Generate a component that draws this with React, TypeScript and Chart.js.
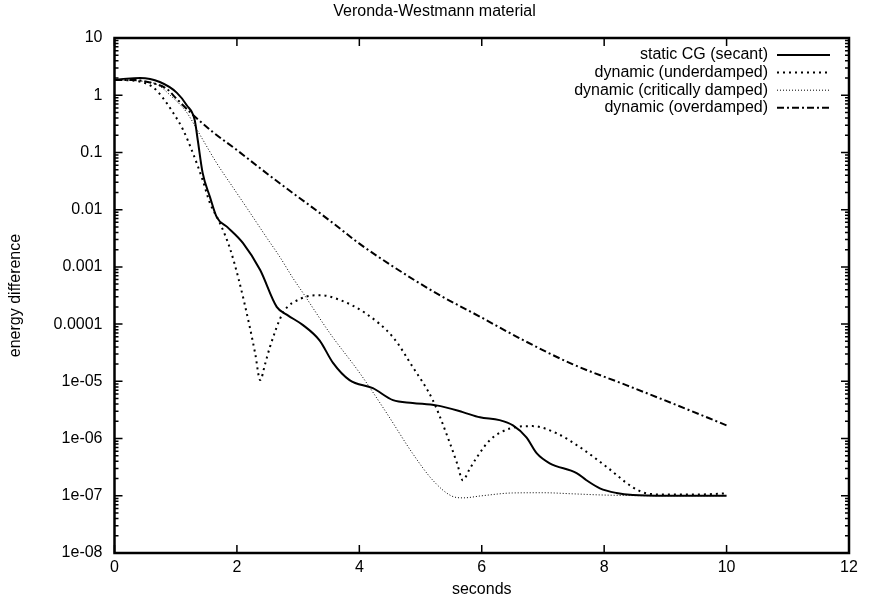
import React, { useEffect, useRef } from 'react';
import { Chart, registerables } from 'chart.js';

Chart.register(...registerables);

const titleText = 'Veronda-Westmann material';
const xAxisTitle = 'seconds';
const yAxisTitle = 'energy difference';

const xTickValues = [0, 2, 4, 6, 8, 10, 12];
const yTickValues = [10, 1, 0.1, 0.01, 0.001, 0.0001, 1e-5, 1e-6, 1e-7, 1e-8];
const yTickLabels = ['10', '1', '0.1', '0.01', '0.001', '0.0001', '1e-05', '1e-06', '1e-07', '1e-08'];

const seriesLabels = [
  'static CG (secant)',
  'dynamic (underdamped)',
  'dynamic (critically damped)',
  'dynamic (overdamped)',
];

const staticX = [0, 0.2, 0.42, 0.74, 1.02, 1.18, 1.31, 1.36, 1.44, 1.56, 1.67, 1.84, 2.1, 2.38, 2.65, 2.82, 3.08, 3.35, 3.57, 3.84, 4.22, 4.55, 4.87, 5.26, 5.69, 5.97, 6.29, 6.51, 6.73, 6.9, 7.11, 7.55, 7.71, 7.93, 8.2, 8.47, 9.0, 9.5, 10];
const staticY = [1.85, 1.95, 2.0, 1.7, 1.1, 0.67, 0.37, 0.165, 0.044, 0.0166, 0.0074, 0.005, 0.0026, 8.8e-4, 2.0e-4, 1.45e-4, 9.6e-5, 5.2e-5, 2.1e-5, 1.05e-5, 7.6e-6, 4.7e-6, 4.2e-6, 3.8e-6, 2.9e-6, 2.35e-6, 2.1e-6, 1.7e-6, 1.05e-6, 5.5e-7, 3.7e-7, 2.5e-7, 1.87e-7, 1.35e-7, 1.12e-7, 1.03e-7, 1.0e-7, 1.0e-7, 1.0e-7];

const underX = [0, 0.3, 0.63, 0.78, 0.96, 1.12, 1.28, 1.44, 1.56, 1.72, 1.88, 2.02, 2.21, 2.3, 2.38, 2.46, 2.54, 2.75, 3.05, 3.36, 3.7, 4.1, 4.55, 4.87, 5.2, 5.48, 5.6, 5.69, 5.8, 5.92, 6.13, 6.46, 6.83, 7.22, 7.6, 8.04, 8.47, 8.7, 9.0, 9.5, 10];
const underY = [1.85, 1.8, 1.38, 0.93, 0.49, 0.25, 0.098, 0.033, 0.013, 0.0059, 0.0022, 6.6e-4, 8.9e-5, 3e-5, 1.05e-5, 2e-5, 4e-5, 1.55e-4, 2.8e-4, 3.2e-4, 2.6e-4, 1.55e-4, 5.9e-5, 1.8e-5, 4.7e-6, 8.3e-7, 3.6e-7, 1.87e-7, 2.9e-7, 4.7e-7, 9.3e-7, 1.5e-6, 1.65e-6, 1.24e-6, 7.1e-7, 3.2e-7, 1.4e-7, 1.1e-7, 1.05e-7, 1.05e-7, 1.1e-7];

const criticalX = [0, 0.3, 0.69, 0.91, 1.18, 1.4, 1.67, 1.93, 2.21, 2.49, 2.7, 2.91, 3.08, 3.52, 4.01, 4.45, 4.87, 5.2, 5.5, 5.7, 6.0, 6.5, 7.0, 7.5, 8.0, 9.0, 10];
const criticalY = [1.85, 1.8, 1.55, 1.0, 0.5, 0.2, 0.065, 0.025, 0.009, 0.0032, 0.0015, 6.5e-4, 3.5e-4, 6.9e-5, 1.38e-5, 2.75e-6, 5.5e-7, 1.87e-7, 1.0e-7, 9.2e-8, 1.0e-7, 1.12e-7, 1.13e-7, 1.08e-7, 1.03e-7, 1.0e-7, 1.0e-7];

const overX = [0, 0.3, 0.6, 0.85, 1.0, 1.24, 1.6, 2.0, 2.35, 2.8, 3.22, 3.6, 3.99, 4.56, 5.27, 5.97, 6.67, 7.48, 8.3, 9.12, 10];
const overY = [1.85, 1.85, 1.65, 1.3, 0.9, 0.5, 0.23, 0.11, 0.056, 0.024, 0.0112, 0.0055, 0.0026, 0.001, 3.4e-4, 1.35e-4, 5.3e-5, 2.0e-5, 9.1e-6, 4.1e-6, 1.7e-6];

const FONT_FAMILY = '"Liberation Sans", Arial, Helvetica, sans-serif';
const FONT_SIZE = 16;

const zip = (xs: number[], ys: number[]) => xs.map((x, i) => ({ x, y: ys[i] }));

const framePlugin = {
  id: 'gnuFrame',
  afterDraw(chart: any) {
    const { ctx, chartArea: a, scales } = chart;
    const xs = scales.x;
    const ys = scales.y;
    ctx.save();
    ctx.strokeStyle = '#000';
    ctx.lineWidth = 1.5;
    ctx.beginPath();
    const MAJ = 8;
    const MIN = 4;
    for (const v of xTickValues) {
      const px = xs.getPixelForValue(v);
      ctx.moveTo(px, a.bottom);
      ctx.lineTo(px, a.bottom - MAJ);
      ctx.moveTo(px, a.top);
      ctx.lineTo(px, a.top + MAJ);
    }
    for (const v of yTickValues) {
      const py = ys.getPixelForValue(v);
      ctx.moveTo(a.left, py);
      ctx.lineTo(a.left + MAJ, py);
      ctx.moveTo(a.right, py);
      ctx.lineTo(a.right - MAJ, py);
      if (v < 10) {
        for (let m = 2; m <= 9; m++) {
          const pm = ys.getPixelForValue(v * m);
          ctx.moveTo(a.left, pm);
          ctx.lineTo(a.left + MIN, pm);
          ctx.moveTo(a.right, pm);
          ctx.lineTo(a.right - MIN, pm);
        }
      }
    }
    ctx.stroke();
    ctx.lineWidth = 2.5;
    ctx.strokeRect(a.left, a.top, a.right - a.left, a.bottom - a.top);
    ctx.restore();
  },
};

const keyPlugin = {
  id: 'gnuKey',
  afterDraw(chart: any) {
    const { ctx, chartArea: a } = chart;
    ctx.save();
    ctx.font = `${FONT_SIZE}px ${FONT_FAMILY}`;
    ctx.fillStyle = '#000';
    ctx.strokeStyle = '#000';
    ctx.textAlign = 'right';
    ctx.textBaseline = 'middle';
    chart.data.datasets.forEach((ds: any, i: number) => {
      const yy = a.top + 17 + i * 17.6;
      ctx.fillText(ds.label, a.right - 81, yy);
      ctx.beginPath();
      ctx.setLineDash(ds.borderDash || []);
      ctx.lineWidth = ds.borderWidth;
      ctx.moveTo(a.right - 72, yy);
      ctx.lineTo(a.right - 19, yy);
      ctx.stroke();
    });
    ctx.restore();
  },
};

export default function App() {
  const ref = useRef<HTMLCanvasElement | null>(null);

  useEffect(() => {
    if (!ref.current) return;
    const font = { family: FONT_FAMILY, size: FONT_SIZE, weight: 'normal' as const };
    const common = {
      borderColor: '#000',
      pointRadius: 0,
      fill: false,
      cubicInterpolationMode: 'monotone' as const,
      borderCapStyle: 'butt' as const,
    };
    const chart = new Chart(ref.current, {
      type: 'line',
      data: {
        datasets: [
          { ...common, label: seriesLabels[0], data: zip(staticX, staticY), borderWidth: 2, borderDash: [] },
          { ...common, label: seriesLabels[1], data: zip(underX, underY), borderWidth: 2, borderDash: [2, 4] },
          { ...common, label: seriesLabels[2], data: zip(criticalX, criticalY), borderWidth: 1, borderDash: [1, 2] },
          { ...common, label: seriesLabels[3], data: zip(overX, overY), borderWidth: 2, borderDash: [7, 3, 2, 3] },
        ] as any,
      },
      options: {
        responsive: false,
        animation: false,
        devicePixelRatio: 1,
        layout: { padding: { left: 0, right: 0, top: 0, bottom: 0 } },
        plugins: {
          legend: { display: false },
          tooltip: { enabled: false },
          title: {
            display: true,
            text: titleText,
            color: '#000',
            font,
            padding: { top: 2.4, bottom: 16.4 },
          },
        },
        scales: {
          x: {
            type: 'linear',
            min: 0,
            max: 12,
            grid: { display: false, drawTicks: false },
            border: { display: false },
            afterBuildTicks: (s: any) => {
              s.ticks = xTickValues.map((v) => ({ value: v }));
            },
            ticks: { color: '#000', font, padding: 5, maxRotation: 0 },
            title: { display: true, text: xAxisTitle, color: '#000', font, padding: { top: 0, bottom: 12.4 } },
            afterFit: (s: any) => {
              s.height = 59;
            },
          },
          y: {
            type: 'logarithmic',
            min: 1e-8,
            max: 10,
            grid: { display: false, drawTicks: false },
            border: { display: false },
            afterBuildTicks: (s: any) => {
              s.ticks = yTickValues.map((v) => ({ value: v }));
            },
            ticks: {
              color: '#000',
              font,
              padding: 12,
              autoSkip: false,
              callback: (value: any) => {
                const i = yTickValues.indexOf(Number(value));
                return i >= 0 ? yTickLabels[i] : '';
              },
            },
            title: { display: true, text: yAxisTitle, color: '#000', font, padding: { top: 6.4, bottom: 0 } },
            afterFit: (s: any) => {
              s.width = 114.5;
            },
          },
          yRightSpace: {
            type: 'linear',
            position: 'right',
            display: true,
            grid: { display: false, drawTicks: false },
            border: { display: false },
            ticks: { display: false },
            title: { display: false },
            afterFit: (s: any) => {
              s.width = 20;
            },
          },
        },
      } as any,
      plugins: [framePlugin, keyPlugin],
    });
    return () => chart.destroy();
  }, []);

  return (
    <div style={{ position: 'fixed', left: 0, top: 0, width: 869, height: 612, background: '#fff' }}>
      <canvas ref={ref} width={869} height={612} style={{ display: 'block', width: 869, height: 612 }} />
    </div>
  );
}
